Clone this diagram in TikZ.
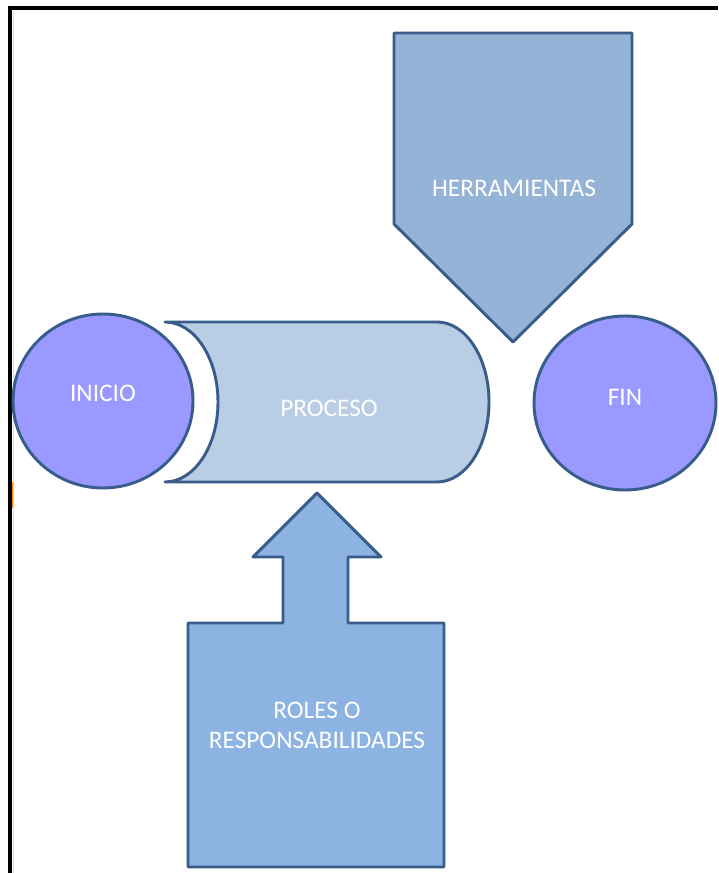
\documentclass[tikz,border=0pt]{standalone}
\usepackage{fontspec}
\setmainfont{Carlito}
\usetikzlibrary{shapes.geometric}
\definecolor{edgeblue}{HTML}{385D8A}
\definecolor{discfill}{RGB}{153,153,255}
\definecolor{canfill}{HTML}{B9CDE5}
\definecolor{toolfill}{HTML}{95B3D7}
\definecolor{rolefill}{HTML}{8DB3E2}
\definecolor{framegray}{HTML}{D0DCEB}
\tikzset{
  shapeline/.style={draw=edgeblue, line width=2.2pt, line join=round},
  label text/.style={text=white, font=\fontsize{19}{22.5}\selectfont, align=center, inner sep=0pt},
  disc/.style={shapeline, fill=discfill, ellipse, minimum width=135pt, minimum height=130.5pt, inner sep=0pt},
}
\begin{document}
\begin{tikzpicture}[x=0.75pt, y=0.75pt]
  \useasboundingbox (0,0) rectangle (718,873);
  \fill[white] (0,0) rectangle (718,873);

  % page frame: top and left edges
  \draw[framegray, line width=1pt] (13.5,0) -- (13.5,862);
  \draw[black, line width=2.6pt] (8,865) -- (718,865);
  \draw[black, line width=2.6pt] (10,866.5) -- (10,0);
  \draw[orange, line width=1pt] (12.8,391) -- (12.8,365);

  % start and end discs
  \node[disc] (inicio) at (103,472) {};
  \node[disc, minimum width=136.5pt] (fin) at (625,470) {};
  \node[label text] at ([yshift=6pt]inicio.center) {INICIO};
  \node[label text] at ([yshift=4pt]fin.center) {FIN};

  % process can
  \path[shapeline, fill=canfill]
    (165,551) -- (437,551)
    arc[start angle=90, end angle=-90, x radius=52, y radius=80]
    -- (165,391)
    arc[start angle=-90, end angle=90, x radius=53, y radius=80]
    -- cycle;
  \node[label text] (proceso) at (329,465) {PROCESO};

  % tools pentagon pointing down
  \path[shapeline, fill=toolfill]
    (394,840) -- (632,840) -- (632,649) -- (513,531) -- (394,649) -- cycle;
  \node[label text] (herramientas) at (514,685) {HERRAMIENTAS};

  % roles box with upward arrow
  \path[shapeline, fill=rolefill]
    (188,6) -- (444,6) -- (444,250) -- (348,250) -- (348,316) -- (381,316)
    -- (317,380) -- (253,316) -- (283,316) -- (283,250) -- (188,250) -- cycle;
  \node[label text] (roles) at (317,148) {ROLES O\\RESPONSABILIDADES};
\end{tikzpicture}
\end{document}
